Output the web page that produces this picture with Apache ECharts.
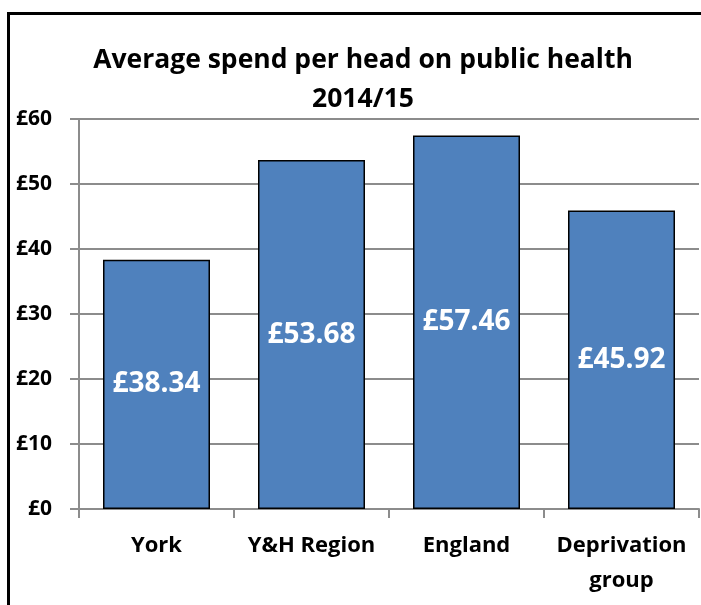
<!DOCTYPE html>
<html>
<head>
<meta charset="utf-8">
<script src="https://cdn.jsdelivr.net/npm/echarts@6/dist/echarts.min.js"></script>
<style>
  html, body {margin: 0; padding: 0; background: #fff;}
  #chart {width: 701px; height: 605px;}
</style>
</head>
<body>
<div id="chart"></div>
<script>
// data
const categories = ['York', 'Y&H Region', 'England', 'Deprivation\ngroup']
const spend = [38.34, 53.68, 57.46, 45.92]
const yTicks = {min: 0, max: 60, interval: 10}

const font = '"Open Sans", "Noto Sans", sans-serif'
const gridGray = '#8c8c8c'

const chart = echarts.init(document.getElementById('chart'))

chart.setOption({
  animation: false,
  backgroundColor: '#fff',
  graphic: [{
    type: 'rect',
    shape: {x: 8.5, y: 13.5, width: 900, height: 900},
    style: {fill: 'none', stroke: '#000', lineWidth: 3},
    silent: true,
  }],
  title: {
    text: 'Average spend per head on public health\n2014/15',
    left: 358,
    textAlign: 'center',
    top: 36,
    textStyle: {
      fontFamily: font,
      fontWeight: 'bold',
      fontSize: 26.5,
      lineHeight: 39,
      color: '#000',
    },
  },
  grid: {left: 79, right: 2, top: 119, bottom: 96, containLabel: false},
  xAxis: {
    type: 'category',
    data: categories,
    axisLine: {lineStyle: {color: gridGray, width: 2}},
    axisTick: {show: true, length: 9, lineStyle: {color: gridGray, width: 2}},
    axisLabel: {
      margin: 19,
      fontFamily: font,
      fontWeight: 'bold',
      fontSize: 22,
      lineHeight: 35,
      color: '#000',
      interval: 0,
    },
  },
  yAxis: {
    type: 'value',
    min: yTicks.min,
    max: yTicks.max,
    interval: yTicks.interval,
    axisLine: {show: true, lineStyle: {color: gridGray, width: 2}},
    axisTick: {show: true, inside: false, length: 9, lineStyle: {color: gridGray, width: 2}},
    splitLine: {lineStyle: {color: gridGray, width: 2}},
    axisLabel: {
      margin: 27,
      formatter: '£{value}',
      fontFamily: font,
      fontWeight: 'bold',
      fontSize: 21,
      color: '#000',
    },
  },
  series: [{
    type: 'bar',
    data: spend,
    barWidth: 107,
    itemStyle: {color: '#4f81bd', borderColor: '#000', borderWidth: 1.5},
    label: {
      show: true,
      position: 'inside',
      formatter: p => '£' + p.value.toFixed(2),
      fontFamily: font,
      fontWeight: 'bold',
      fontSize: 28,
      color: '#fff',
    },
  }],
})
</script>
</body>
</html>
